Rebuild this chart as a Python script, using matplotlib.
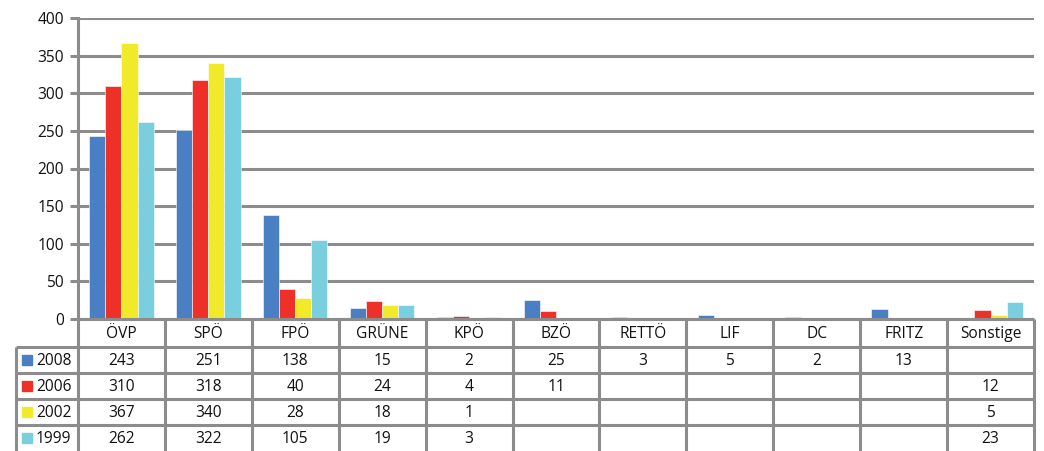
import matplotlib.pyplot as plt
import numpy as np
from matplotlib.transforms import blended_transform_factory
from matplotlib.patches import Rectangle

plt.rcParams["font.family"] = ["Open Sans", "DejaVu Sans"]

parties = ["ÖVP", "SPÖ", "FPÖ", "GRÜNE", "KPÖ", "BZÖ", "RETTÖ", "LIF", "DC", "FRITZ", "Sonstige"]
years = ["2008", "2006", "2002", "1999"]
v2008 = [243, 251, 138, 15, 2, 25, 3, 5, 2, 13, None]
v2006 = [310, 318, 40, 24, 4, 11, None, None, None, None, 12]
v2002 = [367, 340, 28, 18, 1, None, None, None, None, None, 5]
v1999 = [262, 322, 105, 19, 3, None, None, None, None, None, 23]
series = [v2008, v2006, v2002, v1999]
colors = ["#4B7FC3", "#EE3128", "#F0EA2A", "#7ACFDF"]

GRID = "#8C8C8C"
TXT = "#111111"
FS = 11.2
W, H = 1044, 451
fig = plt.figure(figsize=(W / 100, H / 100), dpi=100)
ax = fig.add_axes([78 / W, 1 - 319 / H, (1034 - 78) / W, (319 - 18) / H])

x = np.arange(len(parties))
bw = 0.185
for i, (vals, col) in enumerate(zip(series, colors)):
    h = [np.nan if v is None else v for v in vals]
    ax.bar(x + (i - 1.5) * bw, h, width=bw, color=col, edgecolor="white",
           linewidth=0.4, zorder=3)

ax.set_xlim(-0.5, len(parties) - 0.5)
ax.set_ylim(0, 400)
ax.set_yticks(np.arange(0, 401, 50))
ax.yaxis.grid(True, color=GRID, linewidth=2.2, zorder=0)
ax.set_axisbelow(True)
ax.set_xticks([])
for s in ["top", "right", "bottom"]:
    ax.spines[s].set_visible(False)
ax.spines["left"].set_color(GRID)
ax.spines["left"].set_linewidth(2.2)
ax.tick_params(axis="y", length=6, width=2.2, color=GRID, labelsize=FS,
               pad=4, labelcolor=TXT)

# data table below the plot
tr = blended_transform_factory(ax.transData, fig.transFigure)
def fy(px):
    return 1 - px / H

row_edges = [319, 347, 373, 399, 425, 451]
legend_left = 16
x0_px = 78
lkw = dict(color=GRID, linewidth=2.2, clip_on=False, solid_capstyle="butt")

# horizontal lines
fig.add_artist(plt.Line2D([x0_px / W, 1034 / W], [fy(319), fy(319)],
                          transform=fig.transFigure, **lkw))
for y in row_edges[1:-1]:
    fig.add_artist(plt.Line2D([legend_left / W, 1034 / W], [fy(y), fy(y)],
                              transform=fig.transFigure, **lkw))
# vertical lines
for b in np.arange(len(parties) + 1) - 0.5:
    ax.plot([b, b], [fy(319), fy(460)], transform=tr, **lkw)
fig.add_artist(plt.Line2D([legend_left / W, legend_left / W], [fy(347), fy(460)],
                          transform=fig.transFigure, **lkw))

# header
hc = (row_edges[0] + row_edges[1]) / 2
for xi, name in zip(x, parties):
    ax.text(xi, fy(hc + 1), name, transform=tr, ha="center", va="center",
            fontsize=FS, color=TXT)

# rows
for r, (yr, vals, col) in enumerate(zip(years, series, colors)):
    yc = (row_edges[r + 1] + row_edges[r + 2]) / 2
    for xi, v in zip(x, vals):
        if v is not None:
            ax.text(xi, fy(yc + 1), str(v), transform=tr, ha="center",
                    va="center", fontsize=FS, color=TXT)
    fig.add_artist(Rectangle((22 / W, fy(yc + 5)), 10 / W, 10 / H,
                             transform=fig.transFigure, color=col))
    fig.text(36 / W, fy(yc + 1), yr, ha="left", va="center", fontsize=FS,
             color=TXT)

plt.savefig("out.png", dpi=100)
plt.close()
